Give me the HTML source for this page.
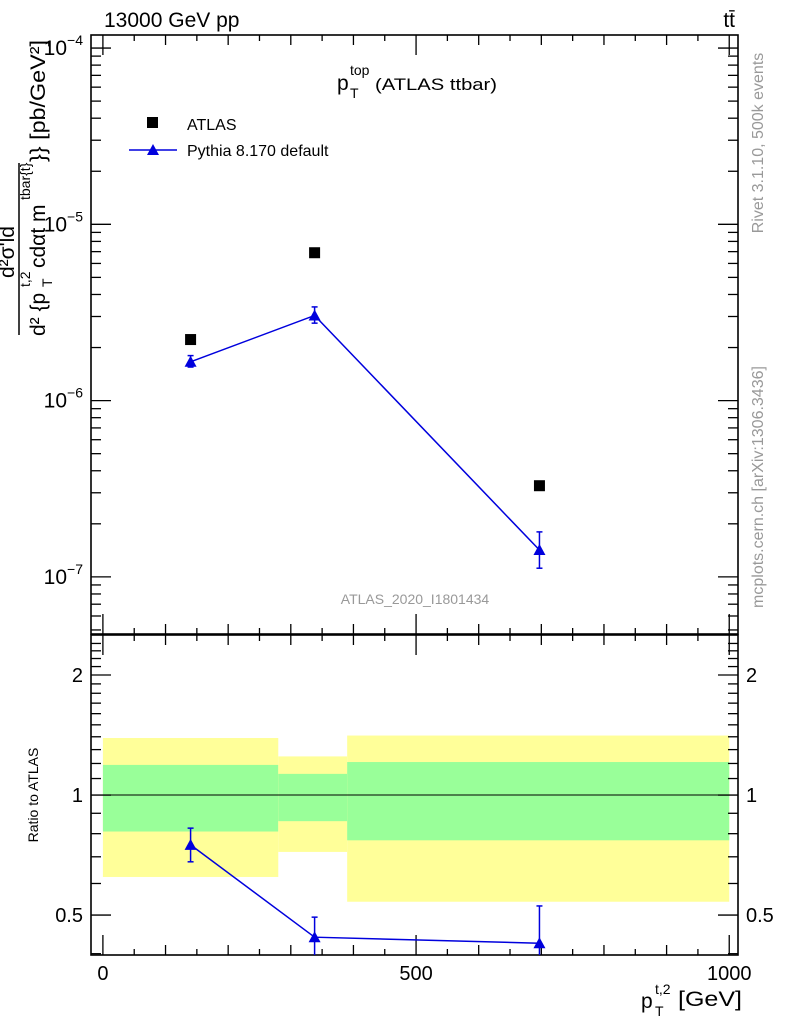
<!DOCTYPE html>
<html><head><meta charset="utf-8"><style>
body{margin:0;background:#fff;font-family:"Liberation Sans",sans-serif}
svg text{font-family:"Liberation Sans",sans-serif}
</style></head><body>
<svg id="c" width="786" height="1024" xmlns="http://www.w3.org/2000/svg">
<text x="104" y="27" font-size="21">13000 GeV pp</text>
<text x="735" y="27" font-size="21" text-anchor="end">tt̄</text>
<g>
<text x="337" y="90" font-size="21">p</text>
<text x="350" y="75" font-size="14">top</text>
<text x="350" y="98" font-size="14">T</text>
<text x="375" y="90" font-size="17" textLength="122" lengthAdjust="spacingAndGlyphs">(ATLAS ttbar)</text>
</g>
<rect x="147" y="117" width="11" height="11" fill="#000"/>
<text x="187" y="130" font-size="16">ATLAS</text>
<line x1="129" y1="150" x2="177" y2="150" stroke="#0000dd" stroke-width="1.5"/>
<polygon points="153,144 147,155 159,155" fill="#0000dd"/>
<text x="187" y="156" font-size="16">Pythia 8.170 default</text>
<text x="415" y="604" font-size="14" fill="#999" text-anchor="middle">ATLAS_2020_I1801434</text>
<text transform="translate(763,143) rotate(-90)" font-size="16" fill="#999" text-anchor="middle">Rivet 3.1.10,  500k events</text>
<text transform="translate(763,487) rotate(-90)" font-size="16" fill="#999" text-anchor="middle">mcplots.cern.ch [arXiv:1306.3436]</text>
<g transform="rotate(-90)">
<text x="-252" y="14" font-size="21" text-anchor="middle">d²σ'ld</text>
<line x1="-335" y1="19" x2="-163" y2="19" stroke="#000" stroke-width="1.5"/>
<text x="-336" y="45" font-size="21">d² {p</text>
<text x="-287" y="30" font-size="14">t,2</text>
<text x="-287" y="52" font-size="14">T</text>
<text x="-268" y="45" font-size="21">cdαt m</text>
<text x="-200" y="30" font-size="14">tbar{t}</text>
<text x="-162" y="45" font-size="21" textLength="122" lengthAdjust="spacingAndGlyphs">}} [pb/GeV²]</text>
</g>
<text transform="translate(38,795) rotate(-90)" font-size="14" text-anchor="middle">Ratio to ATLAS</text>
<g>
<text x="641" y="1008" font-size="21">p</text>
<text x="655" y="994" font-size="14">t,2</text>
<text x="655" y="1016" font-size="14">T</text>
<text x="678" y="1006" font-size="21" textLength="64" lengthAdjust="spacingAndGlyphs">[GeV]</text>
</g>
</svg>
<script>
const binLo=[0,280,390];
const binHi=[280,390,1000];
const xPts=[140,338,697];
const atlas=[2.22e-6,6.9e-6,3.29e-7];
const pythia=[1.66e-6,3.04e-6,1.42e-7];
const pyErrLo=[1.55e-6,2.75e-6,1.12e-7];
const pyErrHi=[1.80e-6,3.40e-6,1.80e-7];
const ratio=[0.75,0.44,0.425];
const ratioErrLo=[0.68,0.38,0.30];
const ratioErrHi=[0.826,0.494,0.527];
const yelLo=[0.623,0.72,0.54];
const yelHi=[1.39,1.25,1.41];
const grnLo=[0.81,0.86,0.77];
const grnHi=[1.19,1.13,1.21];
const mainTicks=[-4,-5,-6,-7];
const ratioTicks=[0.5,1,2];
const xTicks=[0,500,1000];

const L=91,R=738,T1=35,B1=634,T2=635,B2=955;
const X=v=>L+(v+19)/1033*(R-L);
const Y1=v=>T1+(-3.926-Math.log10(v))/(7.324-3.926)*(B1-T1);
const lr=Math.log2;
const Y2=v=>T2+(lr(2.52)-lr(v))/(lr(2.52)-lr(0.397))*(B2-T2);
const svg=document.getElementById('c');
const NS='http://www.w3.org/2000/svg';
function mk(t,a,p){const e=document.createElementNS(NS,t);for(const k in a)e.setAttribute(k,a[k]);(p||svg).appendChild(e);return e;}

for(let i=0;i<3;i++){
 let r=mk('rect',{x:X(binLo[i]),y:Y2(yelHi[i]),width:X(binHi[i])-X(binLo[i]),height:Y2(yelLo[i])-Y2(yelHi[i]),fill:'#ffff99'});
 
 
 let g=mk('rect',{x:X(binLo[i]),y:Y2(grnHi[i]),width:X(binHi[i])-X(binLo[i]),height:Y2(grnLo[i])-Y2(grnHi[i]),fill:'#99ff99'});
 
 
}
mk('line',{x1:L,x2:R,y1:Y2(1),y2:Y2(1),stroke:'#000','stroke-width':1});

let f1=mk('rect',{x:L,y:T1,width:R-L,height:B1-T1,fill:'none',stroke:'#000','stroke-width':1.6});


let f2=mk('rect',{x:L,y:T2,width:R-L,height:B2-T2,fill:'none',stroke:'#000','stroke-width':1.6});



for(let d=-8;d<=-4;d++)for(let m=1;m<10;m++){
 const v=m*Math.pow(10,d),y=Y1(v);if(y<T1||y>B1)continue;
 const len=m==1?20:10;
 mk('line',{x1:L,x2:L+len,y1:y,y2:y,stroke:'#000','stroke-width':1.3});
 mk('line',{x1:R,x2:R-len,y1:y,y2:y,stroke:'#000','stroke-width':1.3});
}
mainTicks.forEach(d=>{const t=mk('text',{x:L-8,y:Y1(Math.pow(10,d))+7,'font-size':21,'text-anchor':'end'});t.innerHTML='10<tspan font-size="14" dy="-10">−'+(-d)+'</tspan>';
 
 });
for(let v=0.4;v<=2.5;v+=0.1){const y=Y2(v);if(y<T2||y>B2)continue;
 const maj=Math.abs(v-0.5)<1e-6||Math.abs(v-1)<1e-6||Math.abs(v-2)<1e-6;const len=maj?20:10;
 mk('line',{x1:L,x2:L+len,y1:y,y2:y,stroke:'#000','stroke-width':1.3});
 mk('line',{x1:R,x2:R-len,y1:y,y2:y,stroke:'#000','stroke-width':1.3});}
ratioTicks.forEach(v=>{const t=mk('text',{x:L-8,y:Y2(v)+7,'font-size':20,'text-anchor':'end'});t.textContent=v==0.5?'0.5':String(v);
 
 
 const t2=mk('text',{x:R+8,y:Y2(v)+7,'font-size':20});t2.textContent=v==0.5?'0.5':String(v);
 
 });
for(let v=0;v<=1000;v+=50){const x=X(v);
 [[T1,1],[B1,-1],[T2,1],[B2,-1]].forEach(([y,s])=>mk('line',{x1:x,x2:x,y1:y,y2:y+s*(v%500==0?20:(v%100==0?10:6)),stroke:'#000','stroke-width':1.3}));}
xTicks.forEach(v=>{const t=mk('text',{x:X(v),y:980,'font-size':20,'text-anchor':'middle'});t.textContent=v;
 
 });

xPts.forEach((x,i)=>{const r=mk('rect',{x:X(x)-5.5,y:Y1(atlas[i])-5.5,width:11,height:11,fill:'#000'});
 
 });
const pl=mk('polyline',{points:xPts.map((x,i)=>X(x)+','+Y1(pythia[i])).join(' '),fill:'none',stroke:'#0000dd','stroke-width':1.5});


function tri(x,y,name){const p=mk('polygon',{points:`${x},${y-6} ${x-6},${y+5} ${x+6},${y+5}`,fill:'#0000dd'});
 
 }
function err(x,y1,y2,capLo){mk('line',{x1:x,x2:x,y1:y1,y2:y2,stroke:'#0000dd','stroke-width':1.5});
 mk('line',{x1:x-3,x2:x+3,y1:y1,y2:y1,stroke:'#0000dd','stroke-width':1.5});
 if(capLo)mk('line',{x1:x-3,x2:x+3,y1:y2,y2:y2,stroke:'#0000dd','stroke-width':1.5});}
xPts.forEach((x,i)=>{err(X(x),Y1(pyErrHi[i]),Y1(pyErrLo[i]),true);tri(X(x),Y1(pythia[i]),'pythia-point');});
const rl=mk('polyline',{points:xPts.map((x,i)=>X(x)+','+Y2(ratio[i])).join(' '),fill:'none',stroke:'#0000dd','stroke-width':1.5});


xPts.forEach((x,i)=>{const lo=Y2(ratioErrLo[i]);err(X(x),Y2(ratioErrHi[i]),Math.min(B2,lo),lo<B2);tri(X(x),Y2(ratio[i]),'ratio-point');});
</script>
</body></html>
